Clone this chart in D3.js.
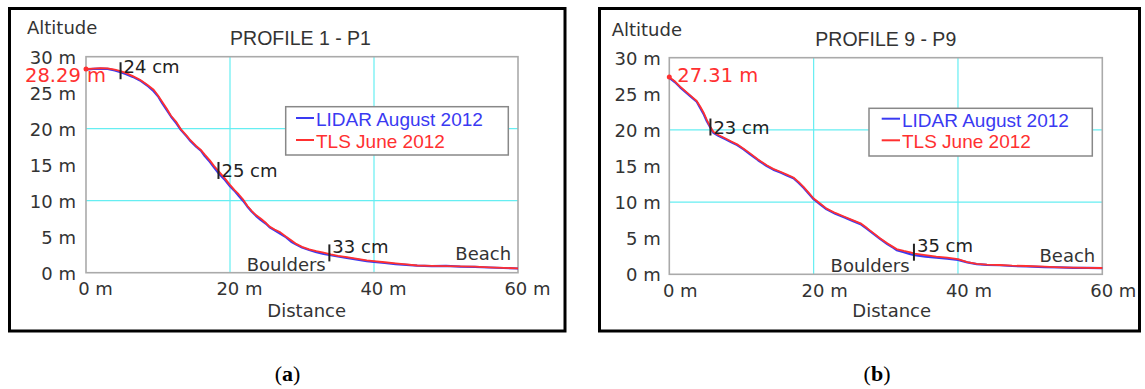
<!DOCTYPE html>
<html>
<head>
<meta charset="utf-8">
<script src="https://cdn.jsdelivr.net/npm/d3@7"></script>
<style>
  html, body { margin: 0; padding: 0; background: #fff; }
  svg { display: block; }
</style>
</head>
<body>
<svg id="chart" width="1145" height="389"></svg>
<script>
// ---------------- DATA ----------------
const xTicks = [0, 20, 40, 60];
const yTicks = [0, 5, 10, 15, 20, 25, 30];
const xGrid = [20, 40];
const yGrid = [10, 20];
const legendLabels = ["LIDAR August 2012", "TLS June 2012"];
const titles = ["PROFILE 1 - P1", "PROFILE 9 - P9"];
const captions = ["a", "b"];

// Profile 1 (distance m, altitude m)
const p1Dist = [0,1,2,3,4,4.8,5.5,6.5,7.5,8.5,9.4,10,10.6,11.2,11.8,12.5,13.2,14,14.5,15.3,16,16.5,17.2,17.8,18.5,19.2,20,20.6,21.2,21.8,22.4,23,23.6,24.3,25,25.5,26.2,27,27.8,28.5,29.2,30,31,32,33,34,35,36,37.5,39,40,41.5,43,44.5,46,48,50,52,54,56,58,60];
const p1Tls = [28.29,28.35,28.4,28.38,28.2,28.0,27.75,27.3,26.8,26.1,25.4,24.6,23.7,22.8,21.8,21.0,19.9,19.0,18.4,17.6,17.0,16.4,15.6,14.8,14.0,13.2,12.2,11.5,10.9,10.2,9.3,8.6,8.0,7.5,6.9,6.4,6.0,5.6,5.0,4.5,4.0,3.6,3.25,3.0,2.8,2.55,2.35,2.2,1.95,1.7,1.6,1.45,1.3,1.15,1.0,0.95,0.92,0.88,0.83,0.75,0.68,0.6];
const p1Lidar = [28.2,28.3,28.35,28.3,28.1,27.85,27.6,27.2,26.7,26.0,25.2,24.5,23.5,22.6,21.7,20.8,19.8,18.9,18.3,17.5,16.9,16.2,15.4,14.6,13.7,13.0,12.0,11.4,10.7,10.0,9.2,8.5,7.9,7.3,6.8,6.3,5.9,5.4,4.9,4.3,3.9,3.5,3.15,2.85,2.6,2.45,2.25,2.1,1.85,1.6,1.5,1.35,1.2,1.1,0.98,0.9,0.95,0.85,0.8,0.72,0.65,0.58];
const p1Marks = [[4.8, 28.05, "24 cm"], [18.4, 14.2, "25 cm"], [33.8, 2.75, "33 cm"]];
const p1Start = [0, 28.29, "28.29 m"];

// Profile 9
const p9Dist = [0,0.8,1.5,2.3,3.1,3.8,4.3,4.8,5.2,5.7,6.1,6.8,7.8,8.6,9.4,10.3,11.2,12.3,13.5,14.4,15.4,16.3,17.2,17.9,18.6,19.3,20,20.9,21.8,23,24.2,25.4,26.5,27.4,28.3,29.2,30.2,31,31.5,32.5,33.4,34,35.5,37,38.5,40,41.3,42.6,44,45.8,47.5,49.5,52,54.1,56,58,60];
const p9Tls = [27.31,26.7,26.0,25.3,24.6,24.0,23.2,22.3,21.4,20.4,19.75,19.3,18.8,18.4,18.0,17.4,16.75,15.9,15.1,14.6,14.2,13.8,13.4,12.8,12.1,11.3,10.5,9.8,9.1,8.5,8.0,7.5,7.06,6.4,5.7,5.0,4.3,3.8,3.5,3.25,3.05,2.85,2.65,2.45,2.3,2.1,1.7,1.43,1.35,1.29,1.2,1.15,1.05,0.97,0.93,0.9,0.87];
const p9Lidar = [27.2,26.6,25.9,25.2,24.5,23.9,23.0,22.1,21.2,20.3,19.6,19.2,18.7,18.3,17.9,17.3,16.6,15.8,15.0,14.5,14.1,13.7,13.3,12.7,12.0,11.2,10.4,9.7,9.0,8.4,7.9,7.4,6.95,6.3,5.6,4.9,4.2,3.7,3.35,3.05,2.8,2.65,2.45,2.3,2.15,2.0,1.65,1.4,1.3,1.25,1.15,1.1,1.0,0.95,0.9,0.88,0.85];
const p9Marks = [[5.7, 20.4, "23 cm"], [33.9, 3.06, "35 cm"]];
const p9Start = [0, 27.31, "27.31 m"];

const placeNotes = [[33.3, 0.25, "Boulders"], [51.3, 1.75, "Beach"]];

// ---------------- LAYOUT / STYLE ----------------
const panels = [
  { frame: [9.5, 8.5, 555.5, 322.5], px: [86, 518], py: [272.7, 56.7],
    title: [300.5, 45], alt: [27, 34.3], dist: [306.7, 316.5], xdx: 9, xpad: 9.5, ypad: 10,
    legend: { box: [285.7, 106.7, 222.6, 48.3], dash: [296, 314], rows: [126, 148] },
    startLbl: [-61, 13], markDy: [2, 6.7, 0], caption: [287.5, 381],
    dist_: p1Dist, tls: p1Tls, lidar: p1Lidar, marks: p1Marks, start: p1Start },
  { frame: [599.5, 8.5, 540, 322.5], px: [669.3, 1102.3], py: [274.3, 57.7],
    title: [885.8, 46], alt: [611.7, 36], dist: [891.7, 316.7], xdx: 10.5, xpad: 9.5, ypad: 8.6,
    legend: { box: [869, 108.3, 223.3, 47.7], dash: [881.7, 900], rows: [126.7, 148.3] },
    startLbl: [8, 4.6], markDy: [6.6, 0], caption: [877, 381],
    dist_: p9Dist, tls: p9Tls, lidar: p9Lidar, marks: p9Marks, start: p9Start }
];
const C = { blue: "#3a3af2", red: "#ff3030", grid: "#66eef2", axis: "#aaaaaa", text: "#333333" };
const tickFont = "'DejaVu Sans', Verdana, sans-serif";
const arialFont = "'Liberation Sans', Arial, sans-serif";

const svg = d3.select("#chart");

panels.forEach((P, i) => {
  const g = svg.append("g");
  const x = d3.scaleLinear().domain([0, 60]).range(P.px);
  const y = d3.scaleLinear().domain([0, 30]).range(P.py);

  // outer frame
  g.append("rect").attr("x", P.frame[0]).attr("y", P.frame[1])
    .attr("width", P.frame[2]).attr("height", P.frame[3])
    .attr("fill", "none").attr("stroke", "#000").attr("stroke-width", 3);

  // grid
  g.selectAll(".vg").data(xGrid).join("line")
    .attr("x1", d => x(d)).attr("x2", d => x(d)).attr("y1", y(0)).attr("y2", y(30))
    .attr("stroke", C.grid).attr("stroke-width", 1.2);
  g.selectAll(".hg").data(yGrid).join("line")
    .attr("y1", d => y(d)).attr("y2", d => y(d)).attr("x1", x(0)).attr("x2", x(60))
    .attr("stroke", C.grid).attr("stroke-width", 1.2);

  // plot border
  g.append("rect").attr("x", x(0)).attr("y", y(30))
    .attr("width", x(60) - x(0)).attr("height", y(0) - y(30))
    .attr("fill", "none").attr("stroke", C.axis).attr("stroke-width", 1.6);

  // axes
  const ax = g.append("g").attr("transform", `translate(0,${y(0)})`)
    .call(d3.axisBottom(x).tickValues(xTicks).tickFormat(d => d + " m").tickSize(0).tickPadding(P.xpad));
  ax.select(".domain").remove();
  ax.selectAll("text").attr("dx", P.xdx).style("font-family", tickFont).style("font-size", "18px").attr("fill", C.text);
  const ay = g.append("g").attr("transform", `translate(${x(0)},0)`)
    .call(d3.axisLeft(y).tickValues(yTicks).tickFormat(d => d + " m").tickSize(0).tickPadding(P.ypad));
  ay.select(".domain").remove();
  ay.selectAll("text").attr("dy", "0.35em").style("font-family", tickFont).style("font-size", "18px").attr("fill", C.text);

  // axis titles
  g.append("text").attr("x", P.alt[0]).attr("y", P.alt[1]).text("Altitude")
    .style("font-family", tickFont).style("font-size", "18px").attr("fill", C.text);
  g.append("text").attr("x", P.dist[0]).attr("y", P.dist[1]).attr("text-anchor", "middle").text("Distance")
    .style("font-family", tickFont).style("font-size", "18px").attr("fill", C.text);
  g.append("text").attr("x", P.title[0]).attr("y", P.title[1]).attr("text-anchor", "middle").text(titles[i])
    .style("font-family", arialFont).style("font-size", "19.5px").attr("fill", C.text);

  // lines
  const line = d3.line().x(d => x(d[0])).y(d => y(d[1]));
  g.append("path").datum(d3.zip(P.dist_, P.lidar)).attr("d", line)
    .attr("fill", "none").attr("stroke", C.blue).attr("stroke-width", 2.2).attr("stroke-linejoin", "round");
  g.append("path").datum(d3.zip(P.dist_, P.tls)).attr("d", line)
    .attr("fill", "none").attr("stroke", C.red).attr("stroke-width", 1.8).attr("stroke-linejoin", "round");

  // start point + label
  g.append("circle").attr("cx", x(P.start[0])).attr("cy", y(P.start[1])).attr("r", 2.5).attr("fill", C.red);
  g.append("text").attr("x", x(P.start[0]) + P.startLbl[0]).attr("y", y(P.start[1]) + P.startLbl[1])
    .text(P.start[2]).style("font-family", tickFont).style("font-size", "19.5px").attr("fill", C.red);

  // difference marks
  P.marks.forEach((m, k) => {
    g.append("line").attr("x1", x(m[0])).attr("x2", x(m[0]))
      .attr("y1", y(m[1]) - 8.5).attr("y2", y(m[1]) + 8.5)
      .attr("stroke", "#222").attr("stroke-width", 2);
    g.append("text").attr("x", x(m[0]) + 3).attr("y", y(m[1]) + P.markDy[k])
      .text(m[2]).style("font-family", tickFont).style("font-size", "18px").attr("fill", "#222");
  });

  // place notes
  g.append("text").attr("x", x(placeNotes[0][0])).attr("y", y(placeNotes[0][1])).attr("text-anchor", "end")
    .text(placeNotes[0][2]).style("font-family", tickFont).style("font-size", "18px").attr("fill", C.text);
  g.append("text").attr("x", x(placeNotes[1][0])).attr("y", y(placeNotes[1][1]))
    .text(placeNotes[1][2]).style("font-family", tickFont).style("font-size", "18px").attr("fill", C.text);

  // legend
  const L = P.legend;
  g.append("rect").attr("x", L.box[0]).attr("y", L.box[1]).attr("width", L.box[2]).attr("height", L.box[3])
    .attr("fill", "#fff").attr("stroke", "#888").attr("stroke-width", 1.5);
  [C.blue, C.red].forEach((col, k) => {
    g.append("line").attr("x1", L.dash[0]).attr("x2", L.dash[1])
      .attr("y1", L.rows[k] - 8).attr("y2", L.rows[k] - 8).attr("stroke", col).attr("stroke-width", 2);
    g.append("text").attr("x", L.dash[1] + 2).attr("y", L.rows[k]).text(legendLabels[k])
      .style("font-family", arialFont).style("font-size", "19px").attr("fill", col);
  });

  // caption
  const cap = svg.append("text").attr("x", P.caption[0]).attr("y", P.caption[1]).attr("text-anchor", "middle")
    .style("font-family", "'Liberation Serif', 'Times New Roman', serif").style("font-size", "22px").attr("fill", "#000");
  cap.append("tspan").text("(");
  cap.append("tspan").style("font-weight", "bold").text(captions[i]);
  cap.append("tspan").text(")");
});
</script>
</body>
</html>
